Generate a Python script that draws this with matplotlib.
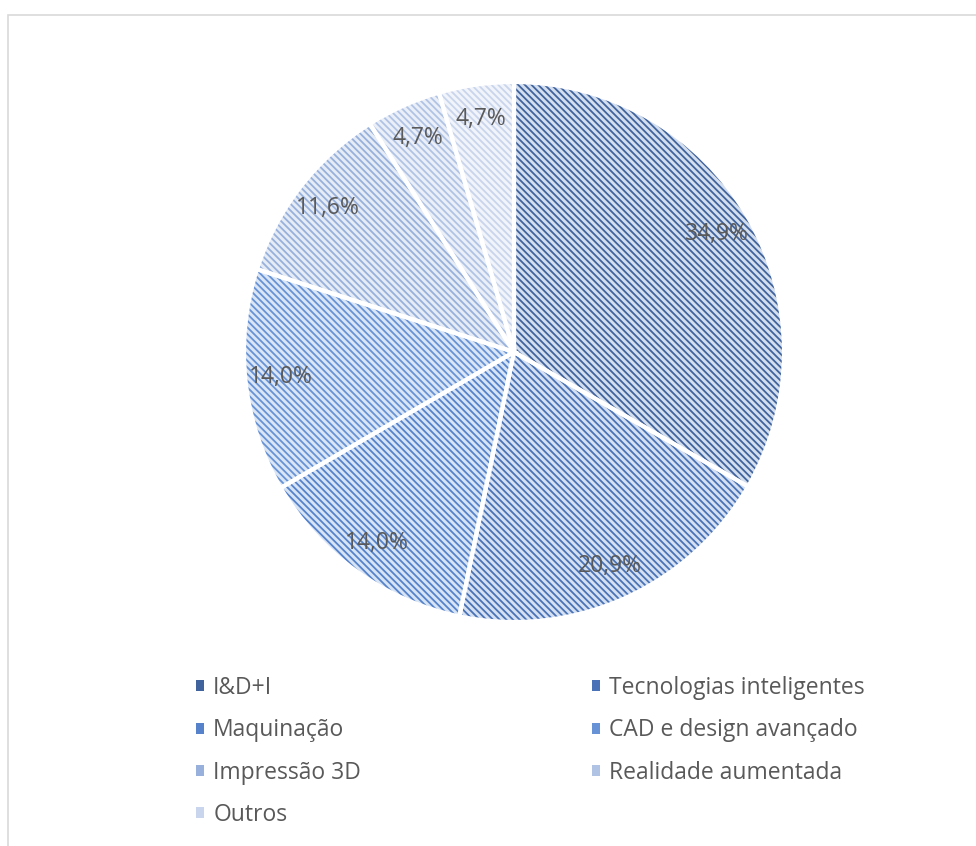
import matplotlib
matplotlib.use("Agg")
import matplotlib.pyplot as plt
from matplotlib.patches import Patch, Rectangle

plt.rcParams['font.family'] = ['Open Sans', 'DejaVu Sans']
plt.rcParams['hatch.linewidth'] = 1.3

# data (percent labels as shown)
categories = ['I&D+I', 'Tecnologias inteligentes', 'Maquinação', 'CAD e design avançado',
              'Impressão 3D', 'Realidade aumentada', 'Outros']
values = [34.9, 20.9, 14.0, 14.0, 11.6, 4.7, 4.7]

stripe_colors = ['#41639d', '#4a72b6', '#5582cb', '#6792d6', '#98b0dc', '#b1c3e5', '#c9d5ec']
back_colors = ['#d3deef', '#d5e1f2', '#d7e4f5', '#dae6f6', '#e5ecf6', '#ebf0f8', '#f1f4fa']
HATCH = '\\\\\\\\\\'

fig = plt.figure(figsize=(9.76, 8.46), dpi=100)

# light grey chart frame (right/bottom edge outside the picture)
fig.patches.append(Rectangle((8 / 976, -0.1), 1.2, 1 - 15 / 846 + 0.1, transform=fig.transFigure,
                             fill=False, edgecolor='#d9d9d9', linewidth=1.2))

cx, cy, r = 514, 352, 270
ax = fig.add_axes([(cx - r) / 976, (846 - cy - r) / 846, 2 * r / 976, 2 * r / 846])

labels = [f'{v:.1f}%'.replace('.', ',') for v in values]

# hatched fill, hatch takes the edge colour so draw edges separately
wedges, texts = ax.pie(values, startangle=90, counterclock=False, radius=1,
                       labels=labels, labeldistance=0.87,
                       wedgeprops=dict(linewidth=0))
for w, sc, bc in zip(wedges, stripe_colors, back_colors):
    w.set_facecolor(bc)
    w.set_edgecolor(sc)
    w.set_hatch(HATCH)
for t in texts:
    t.set_ha('center')
    t.set_va('center')
    t.set_fontsize(16.5)
    t.set_color('#595959')

# white separators on top
ax.pie(values, startangle=90, counterclock=False, radius=1,
       wedgeprops=dict(facecolor='none', edgecolor='white', linewidth=3))
ax.set_xlim(-1, 1)
ax.set_ylim(-1, 1)
ax.set_aspect('equal')

handles = [Patch(facecolor=sc, linewidth=0) for sc in stripe_colors]
leg_kw = dict(loc='upper left', frameon=False, fontsize=16.5, labelcolor='#595959',
              handlelength=0.35, handleheight=0.35, handletextpad=0.4,
              labelspacing=0.8, borderpad=0, borderaxespad=0)
# two columns, row-wise order as in the chart
fig.legend(handles[0::2], categories[0::2], bbox_to_anchor=(196 / 976, 1 - 676 / 846), **leg_kw)
fig.legend(handles[1::2], categories[1::2], bbox_to_anchor=(592 / 976, 1 - 676 / 846), **leg_kw)

fig.savefig('out.png', dpi=100, facecolor='white')
